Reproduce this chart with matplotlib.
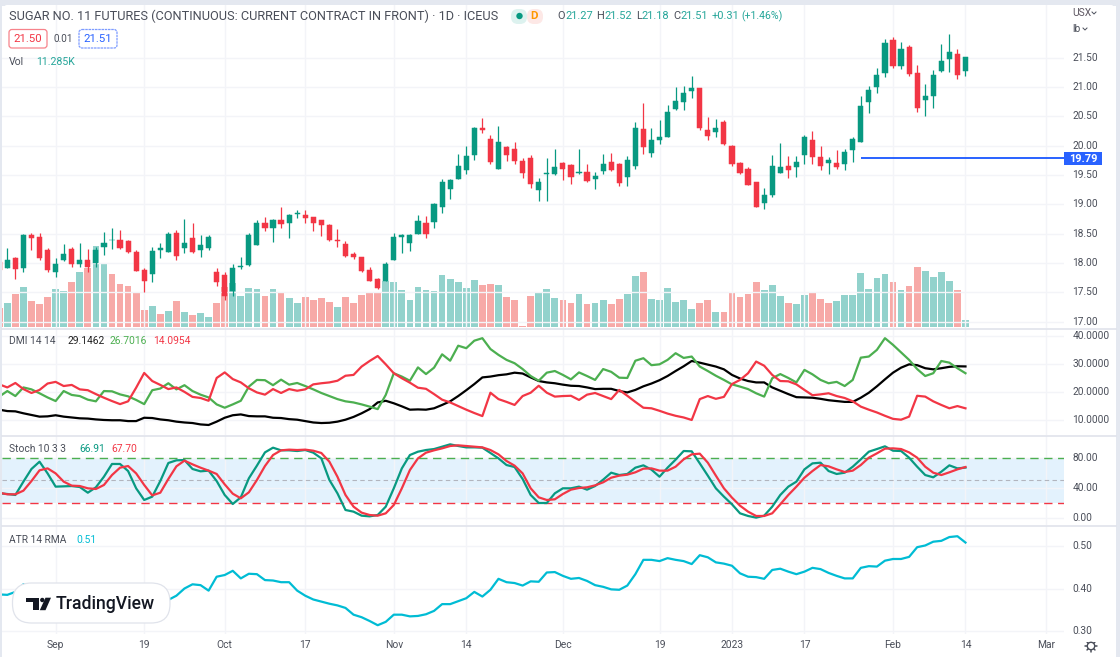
"""Rebuild the TradingView sugar futures chart: candles, volume, DMI, Stoch, ATR."""

import numpy as np
import matplotlib

matplotlib.use("Agg")
import matplotlib.pyplot as plt  # noqa: E402
from matplotlib.patches import FancyBboxPatch, Polygon, Rectangle, Circle  # noqa: E402
from matplotlib.transforms import blended_transform_factory  # noqa: E402

W, H = 1120, 657
plt.rcParams["font.family"] = ["Roboto", "DejaVu Sans"]

UP = "#089981"
DOWN = "#f23645"
VOL_UP = "#92d2cc"
VOL_DOWN = "#f7a9a7"
GRID = "#f3f4f8"
TEXT = "#4a4e59"
BLUE = "#2962ff"
SEP = "#e0e3eb"

# Daily bars, index 0 is the one cut off by the left edge.
opens = [18.01, 17.92, 18.09, 17.91, 18.47, 18.44, 18.22, 17.85, 18.05, 18.24, 17.98, 18.06, 18.00, 18.27, 18.39, 18.40,
         18.37, 18.19, 17.89, 17.81, 18.23, 18.19, 18.51, 18.26, 18.43, 18.22, 18.26, 17.84, 17.80, 17.52, 17.94, 17.96,
         18.31, 18.68, 18.59, 18.74, 18.69, 18.83, 18.82, 18.78, 18.73, 18.65, 18.39, 18.32, 18.15, 18.10, 17.88, 17.72,
         17.69, 18.05, 18.45, 18.35, 18.50, 18.68, 18.70, 18.95, 19.26, 19.44, 19.59, 19.85, 20.30, 20.11, 19.60, 19.98,
         19.94, 19.74, 19.79, 19.24, 19.52, 19.51, 19.70, 19.67, 19.53, 19.55, 19.44, 19.57, 19.73, 19.68, 19.47, 19.65,
         20.28, 19.88, 20.09, 20.15, 20.63, 20.75, 20.94, 20.98, 20.27, 20.23, 20.40, 19.99, 19.70, 19.60, 19.38, 19.02,
         19.16, 19.54, 19.65, 19.63, 19.84, 20.09, 19.80, 19.71, 19.70, 19.69, 19.92, 20.07, 20.75, 21.00, 21.24, 21.80,
         21.35, 21.68, 21.24, 20.78, 20.84, 21.28, 21.48, 21.57, 21.27]
highs = [18.09, 18.25, 18.11, 18.49, 18.51, 18.52, 18.25, 18.08, 18.33, 18.28, 18.34, 18.24, 18.27, 18.53, 18.59, 18.56,
         18.39, 18.22, 17.92, 18.27, 18.35, 18.53, 18.56, 18.75, 18.68, 18.48, 18.48, 17.91, 17.84, 17.99, 18.10, 18.51,
         18.73, 18.78, 18.75, 18.95, 18.83, 18.90, 18.91, 18.79, 18.74, 18.66, 18.58, 18.37, 18.19, 18.11, 17.93, 17.74,
         18.01, 18.51, 18.49, 18.49, 18.82, 18.80, 19.03, 19.43, 19.44, 19.86, 19.99, 20.32, 20.48, 20.19, 20.34, 20.00,
         20.07, 19.79, 19.85, 19.45, 19.79, 19.94, 19.73, 19.68, 19.94, 19.68, 19.55, 19.86, 19.88, 19.71, 19.83, 20.40,
         20.73, 20.30, 20.44, 20.70, 21.00, 21.02, 21.18, 20.99, 20.49, 20.45, 20.43, 20.02, 19.72, 19.63, 19.38, 19.28,
         19.84, 20.04, 19.82, 19.82, 20.19, 20.25, 19.99, 19.81, 19.93, 19.94, 20.15, 20.85, 21.02, 21.33, 21.82, 21.85,
         21.76, 21.71, 21.38, 21.05, 21.29, 21.73, 21.90, 21.65, 21.52]
lows = [17.85, 17.91, 17.72, 17.85, 18.22, 18.06, 17.85, 17.76, 18.04, 17.94, 17.93, 17.85, 17.94, 18.14, 18.24, 18.24,
        18.17, 17.87, 17.51, 17.68, 18.09, 18.19, 18.05, 18.17, 18.17, 18.11, 18.23, 17.61, 17.37, 17.43, 17.90, 17.95,
        18.30, 18.54, 18.36, 18.59, 18.42, 18.76, 18.69, 18.54, 18.46, 18.38, 18.28, 18.11, 18.07, 17.85, 17.70, 17.56,
        17.69, 18.05, 18.17, 18.21, 18.49, 18.42, 18.60, 18.86, 19.09, 19.43, 19.51, 19.75, 20.22, 19.68, 19.60, 19.74,
        19.68, 19.45, 19.28, 19.06, 19.06, 19.50, 19.41, 19.35, 19.52, 19.38, 19.27, 19.52, 19.57, 19.32, 19.32, 19.60,
        19.86, 19.81, 20.03, 20.14, 20.61, 20.61, 20.82, 20.26, 20.10, 20.14, 20.02, 19.65, 19.51, 19.33, 18.95, 18.92,
        19.12, 19.54, 19.45, 19.47, 19.68, 19.68, 19.58, 19.51, 19.61, 19.58, 19.73, 20.07, 20.55, 20.90, 21.17, 21.33,
        21.31, 21.18, 20.58, 20.51, 20.65, 21.26, 21.26, 21.13, 21.18]
closes = [17.89, 18.05, 17.90, 18.47, 18.43, 18.09, 17.88, 17.99, 18.16, 17.98, 18.06, 17.93, 18.23, 18.35, 18.40, 18.26,
          18.18, 17.87, 17.69, 18.20, 18.26, 18.49, 18.12, 18.35, 18.19, 18.30, 18.44, 17.68, 17.43, 17.92, 17.95, 18.47,
          18.68, 18.60, 18.74, 18.67, 18.82, 18.85, 18.77, 18.68, 18.64, 18.39, 18.38, 18.12, 18.11, 17.86, 17.70, 17.57,
          17.98, 18.44, 18.47, 18.47, 18.72, 18.50, 19.01, 19.38, 19.41, 19.65, 19.83, 20.30, 20.26, 19.72, 20.06, 19.85,
          19.74, 19.54, 19.34, 19.38, 19.53, 19.64, 19.61, 19.47, 19.55, 19.39, 19.48, 19.68, 19.59, 19.37, 19.76, 20.30,
          19.98, 20.10, 20.14, 20.57, 20.76, 20.90, 20.98, 20.31, 20.16, 20.30, 20.03, 19.69, 19.54, 19.33, 18.95, 19.16,
          19.65, 19.64, 19.58, 19.73, 20.14, 19.81, 19.66, 19.76, 19.63, 19.89, 20.11, 20.68, 20.95, 21.20, 21.75, 21.36,
          21.65, 21.23, 20.65, 20.84, 21.20, 21.44, 21.59, 21.20, 21.51]

# Volume in thousands of contracts and whether the bar is drawn as up.
volume = [30.1, 39.2, 53.2, 64.4, 41.3, 37.6, 48.3, 61.2, 58.5, 72.0, 89.1, 94.5, 130.5, 103.6, 85.4, 69.3,
          65.5, 54.8, 26.9, 33.8, 20.4, 25.8, 41.3, 24.2, 18.8, 23.1, 16.1, 38.7, 65.0, 70.3, 49.9, 62.8,
          61.2, 49.9, 61.2, 54.8, 46.7, 38.7, 48.3, 44.0, 46.7, 40.3, 32.2, 48.3, 38.7, 51.0, 55.8, 55.3,
          74.1, 72.0, 60.1, 43.0, 64.4, 59.1, 58.0, 83.8, 77.3, 73.0, 62.8, 75.7, 67.7, 69.8, 67.7, 48.3,
          44.0, 1.6, 49.9, 54.8, 61.2, 47.3, 43.0, 38.7, 53.2, 36.5, 39.2, 44.0, 36.5, 45.6, 53.7, 82.7,
          88.1, 45.6, 44.0, 62.8, 40.3, 44.0, 29.5, 39.2, 43.0, 24.2, 24.2, 56.4, 48.3, 53.7, 72.0, 59.6,
          67.7, 49.9, 38.7, 37.6, 52.1, 54.8, 45.6, 38.7, 42.4, 52.1, 52.1, 86.5, 61.2, 78.4, 85.4, 73.0,
          59.6, 66.6, 96.7, 90.2, 80.0, 89.1, 74.1, 59.6, 11.285]
vol_up = [0, 1, 0, 1, 0, 0, 0, 1, 1, 0, 1, 0, 1, 1, 0, 0, 0, 0, 0, 1, 0, 1, 0, 1, 0, 1, 1, 0, 0, 1, 1, 1,
          1, 0, 1, 0, 1, 1, 0, 0, 0, 0, 1, 0, 0, 0, 0, 0, 1, 1, 1, 1, 1, 1, 1, 1, 1, 1, 1, 1, 0, 0, 1, 0,
          0, 0, 0, 1, 1, 1, 0, 0, 1, 0, 1, 1, 0, 0, 1, 1, 0, 1, 1, 1, 1, 1, 1, 0, 0, 1, 0, 0, 0, 0, 0, 1,
          1, 1, 0, 1, 1, 0, 0, 0, 1, 1, 1, 1, 1, 1, 1, 0, 1, 0, 0, 1, 1, 1, 1, 0, 1]

dmi_minus = [22.7, 21.6, 23.2, 21.0, 19.6, 20.7, 23.0, 23.6, 22.1, 22.5, 20.9, 20.6, 19.2, 17.9, 16.7, 15.6,
             16.6, 21.5, 26.8, 23.9, 22.5, 21.0, 21.6, 20.0, 18.2, 17.8, 16.8, 25.0, 27.0, 24.6, 23.4, 21.3,
             19.8, 19.0, 21.0, 19.6, 21.0, 20.4, 20.9, 22.7, 23.1, 23.4, 24.0, 25.8, 26.1, 29.1, 31.1, 32.9,
             29.9, 26.7, 24.9, 23.3, 21.5, 21.1, 19.2, 17.2, 16.2, 14.9, 13.6, 12.4, 11.3, 19.7, 17.4, 16.4,
             15.3, 18.5, 19.7, 22.2, 19.7, 18.3, 18.5, 18.6, 17.1, 19.0, 19.6, 18.5, 17.4, 20.7, 18.6, 16.4,
             14.3, 14.1, 13.2, 12.2, 11.4, 10.8, 9.9, 17.4, 18.5, 17.5, 18.2, 22.8, 24.3, 26.7, 30.9, 29.4,
             26.1, 23.9, 23.8, 22.7, 20.7, 18.8, 19.1, 19.5, 18.5, 17.8, 16.6, 14.7, 13.6, 12.6, 11.4, 10.3,
             10.0, 11.1, 18.6, 18.3, 16.6, 15.3, 14.1, 14.9, 14.0954]
dmi_plus = [18.3, 20.3, 18.5, 21.6, 20.9, 19.5, 18.0, 16.7, 20.3, 18.9, 18.5, 17.2, 16.6, 20.3, 20.2, 19.1,
            18.4, 17.1, 15.6, 20.6, 21.2, 23.1, 20.9, 22.4, 20.3, 19.0, 18.0, 15.5, 14.3, 15.5, 16.8, 21.9,
            24.3, 24.2, 22.4, 24.4, 22.6, 23.2, 22.1, 20.9, 19.6, 18.5, 17.4, 16.6, 16.2, 15.5, 14.7, 13.8,
            18.9, 26.7, 25.5, 24.0, 28.8, 26.4, 28.7, 33.5, 31.2, 36.6, 35.7, 38.4, 39.3, 35.4, 33.3, 31.5,
            30.3, 28.2, 25.7, 24.0, 26.9, 27.5, 26.1, 24.5, 27.0, 25.7, 24.3, 28.2, 27.2, 25.1, 25.0, 31.2,
            32.1, 29.6, 29.9, 31.5, 33.9, 32.2, 32.7, 29.1, 27.5, 25.8, 24.3, 22.7, 21.9, 21.0, 19.5, 18.3,
            24.9, 26.4, 25.0, 23.4, 27.9, 26.3, 24.3, 23.1, 23.6, 22.1, 24.3, 32.3, 32.7, 35.1, 39.3, 36.9,
            34.2, 31.5, 28.2, 25.7, 26.7, 31.1, 30.5, 28.5, 26.7016]
adx = [13.6, 13.1, 13.0, 12.3, 11.7, 11.1, 11.2, 11.6, 11.1, 10.8, 10.5, 10.4, 10.1, 9.9, 9.8, 9.8,
       9.5, 9.5, 10.7, 10.6, 10.1, 9.8, 9.3, 9.0, 8.8, 8.3, 8.1, 9.3, 10.7, 11.6, 11.9, 11.3,
       11.2, 11.2, 10.7, 10.6, 10.2, 10.0, 9.5, 9.0, 8.8, 8.9, 9.3, 10.0, 11.0, 12.3, 13.8, 16.2,
       16.8, 15.9, 14.8, 13.6, 13.7, 13.6, 14.1, 15.3, 16.6, 18.5, 20.6, 22.8, 25.2, 25.5, 26.0, 26.3,
       26.9, 26.6, 25.2, 23.9, 23.4, 23.1, 22.6, 22.2, 22.1, 21.6, 21.0, 21.1, 21.1, 20.3, 19.8, 20.7,
       22.0, 23.0, 24.2, 25.7, 27.5, 29.2, 31.1, 30.5, 29.8, 29.1, 28.1, 26.1, 24.8, 23.9, 23.4, 23.4,
       21.6, 20.4, 19.2, 18.1, 18.0, 17.9, 17.5, 17.0, 16.7, 16.4, 16.4, 17.9, 19.7, 22.0, 24.5, 26.9,
       28.7, 29.9, 29.6, 28.5, 28.1, 28.5, 29.0, 29.2, 29.1462]

stoch_k = [33.0, 32.1, 30.8, 48.4, 65.1, 74.7, 59.3, 41.8, 42.2, 42.6, 41.3, 33.8, 40.9, 54.9, 71.7, 71.7,
           62.4, 39.6, 24.2, 28.6, 49.2, 73.0, 76.5, 76.9, 65.1, 62.0, 62.9, 49.2, 30.8, 18.9, 27.7, 52.8,
           69.5, 87.0, 93.2, 89.7, 89.7, 88.8, 90.1, 86.6, 79.1, 50.6, 33.0, 11.0, 8.8, 3.5, 2.6, 4.4,
           15.4, 39.6, 65.9, 83.5, 87.9, 90.1, 91.4, 94.5, 97.6, 95.4, 93.6, 93.6, 93.2, 86.2, 79.1, 70.3,
           67.7, 51.9, 30.8, 20.2, 20.2, 33.0, 39.6, 39.6, 41.8, 37.8, 42.6, 51.0, 60.2, 57.1, 58.5, 66.8,
           69.9, 64.2, 54.9, 66.8, 77.4, 88.8, 88.4, 72.5, 56.3, 39.6, 28.6, 18.5, 6.6, 3.1, 0.9, 3.5,
           15.4, 30.8, 41.8, 48.4, 64.6, 72.5, 73.4, 62.4, 58.5, 60.2, 68.1, 77.8, 87.9, 91.4, 95.0, 89.2,
           88.8, 80.0, 68.1, 57.1, 54.1, 61.5, 69.9, 65.9, 66.91]
stoch_d = [33.8, 31.7, 31.7, 36.5, 49.2, 63.3, 65.9, 59.3, 48.4, 43.1, 42.6, 39.6, 38.7, 44.0, 57.1, 66.8,
           69.0, 59.3, 44.0, 30.3, 33.8, 51.9, 68.6, 76.1, 71.2, 66.8, 62.9, 58.5, 44.8, 32.5, 26.4, 34.3,
           50.6, 69.0, 83.5, 89.7, 90.6, 90.1, 90.6, 89.2, 86.2, 74.7, 54.9, 30.8, 15.4, 7.5, 4.4, 3.5,
           6.6, 17.6, 39.6, 63.7, 79.1, 86.6, 89.7, 92.3, 95.4, 96.3, 95.4, 94.5, 93.6, 90.1, 84.4, 75.6,
           69.5, 59.3, 39.6, 27.7, 24.2, 25.1, 32.1, 37.8, 40.0, 40.9, 43.5, 47.5, 53.6, 56.3, 57.6, 60.7,
           65.5, 65.9, 62.9, 62.9, 68.1, 77.8, 84.4, 85.3, 73.4, 56.3, 39.6, 27.3, 16.7, 8.8, 3.1, 3.1,
           6.6, 18.5, 30.8, 41.8, 53.6, 62.4, 70.3, 68.6, 64.6, 61.1, 62.9, 70.3, 80.0, 85.7, 91.9, 92.3,
           91.4, 87.0, 80.0, 68.1, 60.2, 57.1, 60.7, 64.6, 67.70]

atr = [0.386, 0.385, 0.392, 0.410, 0.404, 0.396, 0.389, 0.381, 0.373, 0.365, 0.357, 0.353, 0.349, 0.351, 0.357, 0.361,
       0.362, 0.365, 0.365, 0.362, 0.365, 0.373, 0.383, 0.400, 0.410, 0.408, 0.395, 0.428, 0.432, 0.442, 0.424, 0.435,
       0.434, 0.420, 0.419, 0.415, 0.415, 0.395, 0.383, 0.374, 0.369, 0.364, 0.360, 0.354, 0.338, 0.332, 0.323, 0.313,
       0.321, 0.338, 0.338, 0.334, 0.335, 0.339, 0.347, 0.363, 0.363, 0.370, 0.377, 0.392, 0.381, 0.397, 0.423, 0.415,
       0.413, 0.407, 0.417, 0.416, 0.438, 0.439, 0.430, 0.423, 0.425, 0.418, 0.408, 0.404, 0.398, 0.397, 0.407, 0.434,
       0.468, 0.468, 0.465, 0.472, 0.468, 0.465, 0.458, 0.479, 0.474, 0.462, 0.459, 0.454, 0.436, 0.428, 0.427, 0.423,
       0.444, 0.447, 0.440, 0.434, 0.440, 0.449, 0.446, 0.437, 0.430, 0.424, 0.424, 0.449, 0.453, 0.452, 0.466, 0.470,
       0.470, 0.475, 0.498, 0.502, 0.511, 0.513, 0.522, 0.524, 0.509]

time_ticks = [7, 18, 28, 38, 49, 58, 70, 82, 91, 100, 111, 120, 130]
time_labels = ["Sep", "19", "Oct", "17", "Nov", "14", "Dec", "19", "2023", "17", "Feb", "14", "Mar"]
price_ticks = [17.0, 17.5, 18.0, 18.5, 19.0, 19.5, 20.0, 20.5, 21.0, 21.5]
dmi_ticks = [10, 20, 30, 40]
stoch_ticks = [0, 40, 80]
atr_ticks = [0.3, 0.4, 0.5]
last_marker = 19.79
marker_start = 107

PANE_LEFT, PANE_RIGHT = 2, 1063.7
X_LIMITS = (0.34, 132.2)


def hide_ticks(ax):
    ax.tick_params(left=False, right=False, bottom=False, top=False, labelleft=False, labelbottom=False)


def make_pane(fig, top, bottom, ylim, yticks):
    ax = fig.add_axes([PANE_LEFT / W, 1 - bottom / H, (PANE_RIGHT - PANE_LEFT) / W, (bottom - top) / H])
    ax.patch.set_alpha(0)
    ax.set_xlim(*X_LIMITS)
    ax.set_ylim(*ylim)
    ax.set_xticks(time_ticks)
    ax.set_yticks(yticks)
    ax.grid(True, color=GRID, lw=1)
    ax.set_axisbelow(True)
    hide_ticks(ax)
    for spine in ax.spines.values():
        spine.set_visible(False)
    return ax


def draw_candles(ax):
    x = np.arange(len(opens))
    o, c = np.array(opens), np.array(closes)
    colors = [UP if b >= a else DOWN for a, b in zip(o, c)]
    ax.vlines(x, lows, highs, colors=colors, lw=0.9, zorder=4)
    ax.bar(x, np.abs(c - o), bottom=np.minimum(o, c), width=0.64, color=colors,
           edgecolor=colors, lw=0.35, zorder=5)


def draw_volume(ax):
    x = np.arange(len(volume))
    colors = [VOL_UP if u else VOL_DOWN for u in vol_up]
    ax.bar(x, volume, width=0.84, color=colors, zorder=2)


def main():
    fig = plt.figure(figsize=(W / 100, H / 100), dpi=100, facecolor="#e4e8f0")

    # Overlay in pixel coordinates for the header texts, axis labels and logo.
    over = fig.add_axes([0, 0, 1, 1], zorder=10)
    over.set_xlim(0, W)
    over.set_ylim(H, 0)
    over.axis("off")

    back = fig.add_axes([0, 0, 1, 1], zorder=-1)
    back.set_xlim(0, W)
    back.set_ylim(H, 0)
    back.axis("off")
    back.add_patch(FancyBboxPatch((4, 5), 1110, 660, boxstyle="round,pad=0,rounding_size=3",
                                  mutation_aspect=1, fc="white", ec="none", zorder=0))
    back.add_patch(Rectangle((2, 6), 1114, 660, fc="white", ec="none"))

    ax_price = make_pane(fig, 5, 328, (16.893, 22.398), price_ticks)
    ax_vol = ax_price.twinx()
    ax_vol.set_ylim(-1.6, 518.8)
    ax_vol.axis("off")
    hide_ticks(ax_price)
    ax_price.set_zorder(2)
    ax_vol.set_zorder(1)
    draw_volume(ax_vol)
    draw_candles(ax_price)
    ax_price.hlines(last_marker, marker_start, X_LIMITS[1], color=BLUE, lw=1.4, zorder=6)

    ax_dmi = make_pane(fig, 329, 435, (4.5, 42.6), dmi_ticks)
    ax_dmi.plot(adx, color="black", lw=1.6)
    ax_dmi.plot(dmi_plus, color="#4caf50", lw=1.6)
    ax_dmi.plot(dmi_minus, color=DOWN, lw=1.6)

    ax_stoch = make_pane(fig, 436, 525, (-8.8, 108.6), stoch_ticks)
    ax_stoch.axhspan(20, 80, color="#e3f2fd", lw=0, zorder=0.5)
    ax_stoch.axhline(80, color="#4caf50", lw=1, dashes=(6, 4))
    ax_stoch.axhline(50, color="#b2b5be", lw=0.8, dashes=(4, 3))
    ax_stoch.axhline(20, color=DOWN, lw=1, dashes=(6, 4))
    ax_stoch.plot(stoch_k, color=UP, lw=1.6)
    ax_stoch.plot(stoch_d, color=DOWN, lw=1.6)

    ax_atr = make_pane(fig, 526, 634, (0.2922, 0.5482), atr_ticks)
    ax_atr.plot(atr, color="#00bcd4", lw=1.6)

    # Pane separators
    for y in (328.5, 435.5, 525.5):
        over.plot([PANE_LEFT, 1116], [y, y], color=SEP, lw=1.2, zorder=1)

    def label(x, y, s, color=TEXT, size=7.4, **kw):
        over.text(x, y, s, color=color, fontsize=size, va="center", **kw)

    # Right axis labels
    for ax, ticks, fmt in ((ax_price, price_ticks, "{:.2f}"), (ax_dmi, dmi_ticks, "{:.4f}"),
                           (ax_stoch, stoch_ticks, "{:.2f}"), (ax_atr, atr_ticks, "{:.2f}")):
        trans = blended_transform_factory(over.transData, ax.transData)
        for t in ticks:
            over.text(1072.5, t, fmt.format(t), color=TEXT, fontsize=7.3, va="center", transform=trans)
    over.add_patch(Rectangle((1066, 634), 45, 8, fc="white", ec="none", zorder=3))

    # Time axis labels
    trans = blended_transform_factory(ax_atr.transData, over.transData)
    for t, s in zip(time_ticks, time_labels):
        over.text(t, 645, s, color=TEXT, fontsize=7.4, ha="center", va="center", transform=trans)

    # Header
    label(9, 16, "SUGAR NO. 11 FUTURES (CONTINUOUS: CURRENT CONTRACT IN FRONT) · 1D · ICEUS", size=9.2)
    over.add_patch(FancyBboxPatch((511, 9), 16, 15, boxstyle="round,pad=0,rounding_size=7", fc="#ddf2ef", ec="none"))
    over.add_patch(FancyBboxPatch((527, 9), 16, 15, boxstyle="round,pad=0,rounding_size=7", fc="#fde8e6", ec="none"))
    over.add_patch(Circle((519.5, 16), 3.2, fc=UP, ec="none", zorder=3))
    label(534, 16, "D", color="#ff9800", size=8.2, ha="center", fontweight="bold")
    xs = [557, 565, 596.5, 604.5, 636, 641.5, 673, 680]
    parts = ["O", "21.27", "H", "21.52", "L", "21.18", "C", "21.51"]
    for i, (px, s) in enumerate(zip(xs, parts)):
        label(px, 16, s, color=TEXT if i % 2 == 0 else "#26a69a", size=7.9)
    label(712, 16, "+0.31", color="#26a69a", size=7.9)
    label(741, 16, "(+1.46%)", color="#26a69a", size=7.6)

    over.add_patch(FancyBboxPatch((9, 29.5), 38, 18.5, boxstyle="round,pad=0,rounding_size=3", fc="white", ec="#f7838b", lw=0.9))
    label(28, 39, "21.50", color=DOWN, size=8.2, ha="center")
    label(54, 38.5, "0.01", size=7.2)
    over.add_patch(FancyBboxPatch((79, 29.5), 38, 18.5, boxstyle="round,pad=0,rounding_size=3", fc="white", ec="#7c9bff", lw=0.9, ls=(0, (2, 0.6))))
    label(98, 39, "21.51", color=BLUE, size=8.2, ha="center")
    label(9, 62, "Vol", size=7.6)
    label(36, 62, "11.285K", color="#26a69a", size=7.6)

    # USX / lb selectors
    label(1072.5, 13, "USX", size=7.4, color="#5c5560")
    label(1072.5, 29, "lb", size=7.4)
    for cx, cy in ((1094, 13), (1085, 29)):
        over.plot([cx - 2, cx, cx + 2], [cy - 1, cy + 1, cy - 1], color=TEXT, lw=0.7)

    # Pane legends
    label(9, 341, "DMI 14 14")
    label(67, 341, "29.1462", color="#222222")
    label(110, 341, "26.7016", color="#4caf50")
    label(153, 341, "14.0954", color=DOWN)
    label(9, 449, "Stoch 10 3 3")
    label(79, 449, "66.91", color=UP)
    label(111, 449, "67.70", color=DOWN)
    label(9, 540, "ATR 14 RMA")
    label(76, 540, "0.51", color="#00bcd4")

    # Price marker tag
    over.add_patch(Rectangle((1064, 151.5), 38, 13.5, fc=BLUE, ec="none", zorder=4))
    over.text(1083, 158.5, f"{last_marker:.2f}", color="white", fontsize=7.8, fontweight="bold",
              ha="center", va="center", zorder=5)

    # Logo
    over.add_patch(FancyBboxPatch((12.5, 583), 157.5, 40, boxstyle="round,pad=0,rounding_size=19",
                                  fc="white", ec=SEP, lw=0.9, zorder=4))
    over.add_patch(Polygon([(26, 597.7), (39, 597.7), (39, 610.2), (32.5, 610.2), (32.5, 602), (26, 602)],
                           fc="#131722", ec="none", zorder=5))
    over.add_patch(Circle((42.3, 600), 2.2, fc="#131722", ec="none", zorder=5))
    over.add_patch(Polygon([(45.5, 597.7), (51, 597.7), (45.5, 610.2), (39.8, 610.2)],
                           fc="#131722", ec="none", zorder=5))
    over.text(56, 604, "TradingView", color="#131722", fontsize=12.7, fontweight="medium",
              family="Roboto", va="center", zorder=5)

    # Gear in the corner
    gx, gy = 1091, 646
    for a in np.arange(0, 2 * np.pi, np.pi / 4):
        over.plot([gx + 3.4 * np.cos(a), gx + 5.6 * np.cos(a)], [gy + 3.4 * np.sin(a), gy + 5.6 * np.sin(a)],
                  color=TEXT, lw=1.1, solid_capstyle="round")
    over.add_patch(Circle((gx, gy), 3.7, fc="white", ec=TEXT, lw=1.0, zorder=3))

    fig.savefig("out.png", dpi=100, facecolor=fig.get_facecolor())


if __name__ == "__main__":
    main()
